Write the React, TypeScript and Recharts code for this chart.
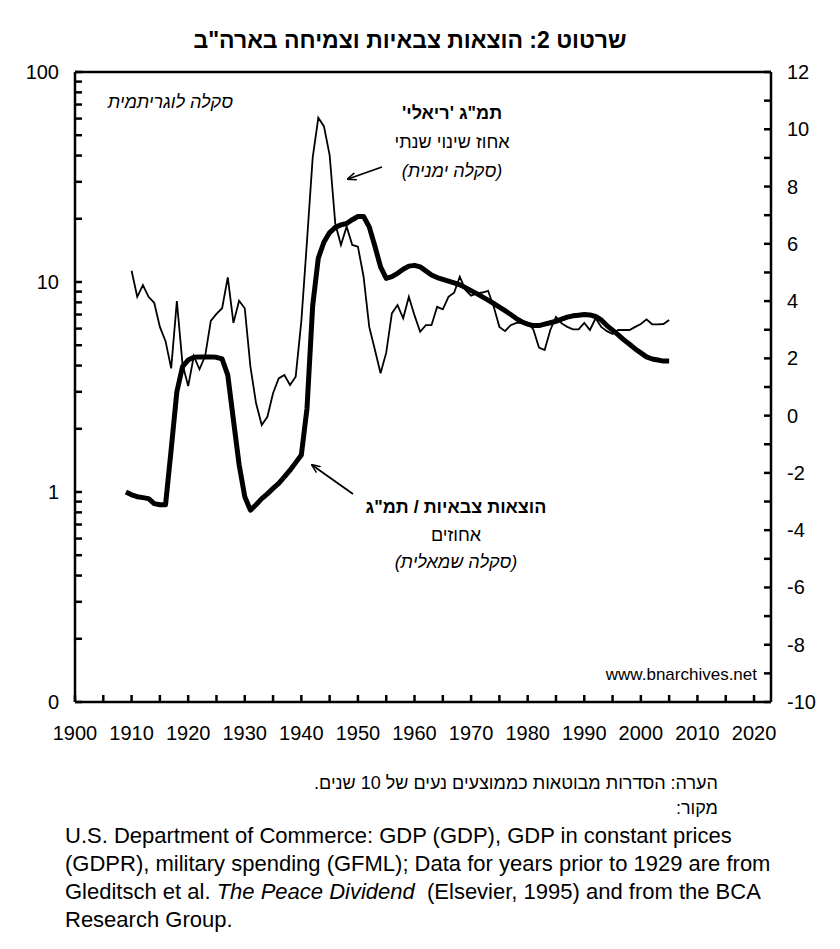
import React from "react";
import { ComposedChart, Line, XAxis, YAxis, ReferenceLine } from "recharts";

const FONT = '"Liberation Sans", Arial, sans-serif';
const TICK = 7;

// years of the thick series (military spending / GDP)
const years = [
  1909, 1910, 1911, 1912, 1913, 1914, 1915, 1916, 1917, 1918, 1919,
  1920, 1921, 1922, 1923, 1924, 1925, 1926, 1927, 1928, 1929,
  1930, 1931, 1932, 1933, 1934, 1935, 1936, 1937, 1938, 1939,
  1940, 1941, 1942, 1943, 1944, 1945, 1946, 1947, 1948, 1949,
  1950, 1951, 1952, 1953, 1954, 1955, 1956, 1957, 1958, 1959,
  1960, 1961, 1962, 1963, 1964, 1965, 1966, 1967, 1968, 1969,
  1970, 1971, 1972, 1973, 1974, 1975, 1976, 1977, 1978, 1979,
  1980, 1981, 1982, 1983, 1984, 1985, 1986, 1987, 1988, 1989,
  1990, 1991, 1992, 1993, 1994, 1995, 1996, 1997, 1998, 1999,
  2000, 2001, 2002, 2003, 2004, 2005,
];

// military spending as % of GDP, 10-yr moving average (left, log scale), 1909-2005
const militaryShare = [
  1.0, 0.97, 0.95, 0.94, 0.93, 0.88, 0.87, 0.87, 1.6, 3.0, 3.95,
  4.25, 4.38, 4.4, 4.4, 4.4, 4.38, 4.3, 3.6, 2.2, 1.35,
  0.95, 0.82, 0.87, 0.93, 0.98, 1.04, 1.1, 1.18, 1.27, 1.38,
  1.5, 2.5, 7.7, 13, 15.5, 17.2, 18.2, 18.7, 19.0, 19.8,
  20.5, 20.5, 18.3, 14.8, 11.8, 10.4, 10.6, 11.0, 11.5, 11.9,
  12.0, 11.8, 11.3, 10.8, 10.5, 10.3, 10.1, 9.9, 9.7, 9.4,
  9.1, 8.8, 8.5, 8.2, 7.9, 7.6, 7.3, 7.0, 6.7, 6.45,
  6.3, 6.2, 6.2, 6.3, 6.4, 6.5, 6.65, 6.8, 6.9, 6.95,
  7.0, 6.97, 6.85, 6.6, 6.2, 5.9, 5.6, 5.3, 5.05, 4.8,
  4.6, 4.4, 4.3, 4.25, 4.2, 4.2,
];

// real GDP, annual % change (right scale), 1910-2005
const growthStart = 1910;
const realGdpGrowth = [
  5.06, 4.15, 4.56, 4.15, 3.94, 3.1, 2.6, 1.65, 4.0, 1.8,
  1.03, 2.08, 1.62, 2.08, 3.31, 3.55, 3.75, 4.83, 3.24, 4.01,
  3.75, 1.71, 0.43, -0.33, -0.04, 0.78, 1.3, 1.42, 1.07, 1.36,
  3.3, 6.1, 9.0, 10.4, 10.1, 9.1, 6.7, 5.96, 6.6, 5.96,
  5.9, 4.85, 3.1, 2.3, 1.48, 2.2, 3.57, 3.86, 3.4, 4.15,
  3.5, 2.93, 3.16, 3.16, 3.8, 3.71, 4.15, 4.29, 4.85, 4.39,
  4.19, 4.27, 4.3, 4.36, 3.8, 3.1, 2.95, 3.16, 3.24, 3.24,
  3.24, 3.01, 2.38, 2.29, 2.99, 3.45, 3.22, 3.1, 3.01, 3.01,
  3.24, 2.99, 3.4, 3.1, 2.95, 2.85, 2.99, 2.99, 2.99, 3.1,
  3.2, 3.36, 3.19, 3.19, 3.2, 3.34,
];

const xTicks = [
  1900, 1905, 1910, 1915, 1920, 1925, 1930, 1935, 1940, 1945, 1950, 1955,
  1960, 1965, 1970, 1975, 1980, 1985, 1990, 1995, 2000, 2005, 2010, 2015, 2020,
];
const leftTicks = [
  0.1, 0.2, 0.3, 0.4, 0.5, 0.6, 0.7, 0.8, 0.9,
  1, 2, 3, 4, 5, 6, 7, 8, 9,
  10, 20, 30, 40, 50, 60, 70, 80, 90, 100,
];
const leftLabels = [0.1, 1, 10, 100];
const rightTicks = [
  -10, -9, -8, -7, -6, -5, -4, -3, -2, -1, 0, 1, 2, 3, 4, 5, 6, 7, 8, 9, 10, 11, 12,
];

const data = years.map((year, i) => ({
  year,
  military: militaryShare[i],
  growth: realGdpGrowth[year - growthStart] ?? null,
}));

// tickSize/tickMargin are 0, so x/y arrive on the axis line; marks are drawn inward
const XTick = ({ x, y, payload }: any) => (
  <g>
    <path d={`M${x},${y}V${y - TICK}`} stroke="#000" strokeWidth={2.5} />
    {payload.value % 10 === 0 && (
      <text x={x} y={y + 38} textAnchor="middle" fontSize={20} fontFamily={FONT} fill="#000">
        {payload.value}
      </text>
    )}
  </g>
);

const LeftTick = ({ x, y, payload }: any) => (
  <g>
    <path d={`M${x},${y}H${x + TICK}`} stroke="#000" strokeWidth={2.5} />
    {leftLabels.includes(payload.value) && (
      <text x={x - 16} y={y + 7} textAnchor="end" fontSize={20} fontFamily={FONT} fill="#000">
        {payload.value < 1 ? 0 : payload.value}
      </text>
    )}
  </g>
);

const RightTick = ({ x, y, payload }: any) => (
  <g>
    <path d={`M${x},${y}H${x - TICK}`} stroke="#000" strokeWidth={2.5} />
    {payload.value % 2 === 0 && (
      <text x={x + 16} y={y + 7} textAnchor="start" fontSize={20} fontFamily={FONT} fill="#000">
        {payload.value}
      </text>
    )}
  </g>
);

const axisLine = { stroke: "#000", strokeWidth: 2.5 };

const abs = (style: React.CSSProperties): React.CSSProperties => ({
  position: "absolute",
  fontFamily: FONT,
  color: "#000",
  whiteSpace: "nowrap",
  ...style,
});

export default function App() {
  return (
    <div style={{ position: "absolute", left: 0, top: 0, width: 840, height: 949, background: "#fff" }}>
      <div dir="rtl" style={abs({ left: 0, width: 820, top: 26, textAlign: "center", fontSize: 23, fontWeight: "bold", lineHeight: "28px" })}>
        שרטוט 2: הוצאות צבאיות וצמיחה בארה"ב
      </div>

      <div style={{ position: "absolute", left: 0, top: 0 }}>
        <ComposedChart width={840} height={760} data={data} margin={{ top: 72, right: 9, bottom: 28, left: 35 }}>
          <XAxis
            dataKey="year"
            type="number"
            domain={[1900, 2023]}
            allowDataOverflow
            ticks={xTicks}
            interval={0}
            tickSize={0}
            tickMargin={0}
            tickLine={false}
            height={30}
            axisLine={axisLine}
            tick={(p: any) => <XTick {...p} />}
          />
          <YAxis
            yAxisId="left"
            orientation="left"
            scale="log"
            domain={[0.1, 100]}
            allowDataOverflow
            ticks={leftTicks}
            interval={0}
            width={40}
            tickSize={0}
            tickMargin={0}
            tickLine={false}
            axisLine={axisLine}
            tick={(p: any) => <LeftTick {...p} />}
          />
          <YAxis
            yAxisId="right"
            orientation="right"
            domain={[-10, 12]}
            allowDataOverflow
            ticks={rightTicks}
            interval={0}
            width={60}
            tickSize={0}
            tickMargin={0}
            tickLine={false}
            axisLine={axisLine}
            tick={(p: any) => <RightTick {...p} />}
          />
          <ReferenceLine yAxisId="right" y={12} stroke="#000" strokeWidth={2.5} />

          <Line yAxisId="left" dataKey="military" type="linear" stroke="#000" strokeWidth={5} strokeLinejoin="round" dot={false} isAnimationActive={false} />
          <Line yAxisId="right" dataKey="growth" type="linear" stroke="#000" strokeWidth={1.8} dot={false} isAnimationActive={false} />
        </ComposedChart>
      </div>

      <svg width={840} height={949} style={{ position: "absolute", left: 0, top: 0, pointerEvents: "none" }}>
        <defs>
          <marker id="head" viewBox="0 0 10 10" refX="9" refY="5" markerWidth="9" markerHeight="9" orient="auto-start-reverse" markerUnits="userSpaceOnUse">
            <path d="M0,1 L10,5 L0,9" fill="none" stroke="#000" strokeWidth={1.6} />
          </marker>
        </defs>
        <line x1={382} y1={167} x2={348} y2={179} stroke="#000" strokeWidth={1.8} markerEnd="url(#head)" />
        <line x1={353} y1={494} x2={312} y2={465} stroke="#000" strokeWidth={1.8} markerEnd="url(#head)" />
      </svg>

      <div dir="rtl" style={abs({ left: 60, width: 173, top: 90, textAlign: "right", fontSize: 18, fontStyle: "italic", lineHeight: "24px" })}>
        סקלה לוגריתמית
      </div>

      <div dir="rtl" style={abs({ left: 352, width: 200, top: 99, textAlign: "center", fontSize: 18, lineHeight: "29px" })}>
        <div style={{ fontWeight: "bold" }}>תמ"ג 'ריאלי'</div>
        <div>אחוז שינוי שנתי</div>
        <div style={{ fontStyle: "italic" }}>(סקלה ימנית)</div>
      </div>

      <div dir="rtl" style={abs({ left: 336, width: 240, top: 494, textAlign: "center", fontSize: 18, lineHeight: "27.5px" })}>
        <div style={{ fontWeight: "bold" }}>הוצאות צבאיות / תמ"ג</div>
        <div>אחוזים</div>
        <div style={{ fontStyle: "italic" }}>(סקלה שמאלית)</div>
      </div>

      <div style={abs({ left: 500, width: 257, top: 664, textAlign: "right", fontSize: 17, lineHeight: "22px" })}>
        www.bnarchives.net
      </div>

      <div dir="rtl" style={abs({ left: 200, width: 518, top: 771, textAlign: "right", fontSize: 18, lineHeight: "24.5px" })}>
        <div>הערה: הסדרות מבוטאות כממוצעים נעים של 10 שנים.</div>
        <div>מקור:</div>
      </div>

      <div style={abs({ left: 65, top: 822, fontSize: 22, lineHeight: "28px" })}>
        <div>U.S. Department of Commerce: GDP (GDP), GDP in constant prices</div>
        <div>(GDPR), military spending (GFML); Data for years prior to 1929 are from</div>
        <div>
          Gleditsch et al. <i>The Peace Dividend</i>&nbsp; (Elsevier, 1995) and from the BCA
        </div>
        <div>Research Group.</div>
      </div>
    </div>
  );
}
